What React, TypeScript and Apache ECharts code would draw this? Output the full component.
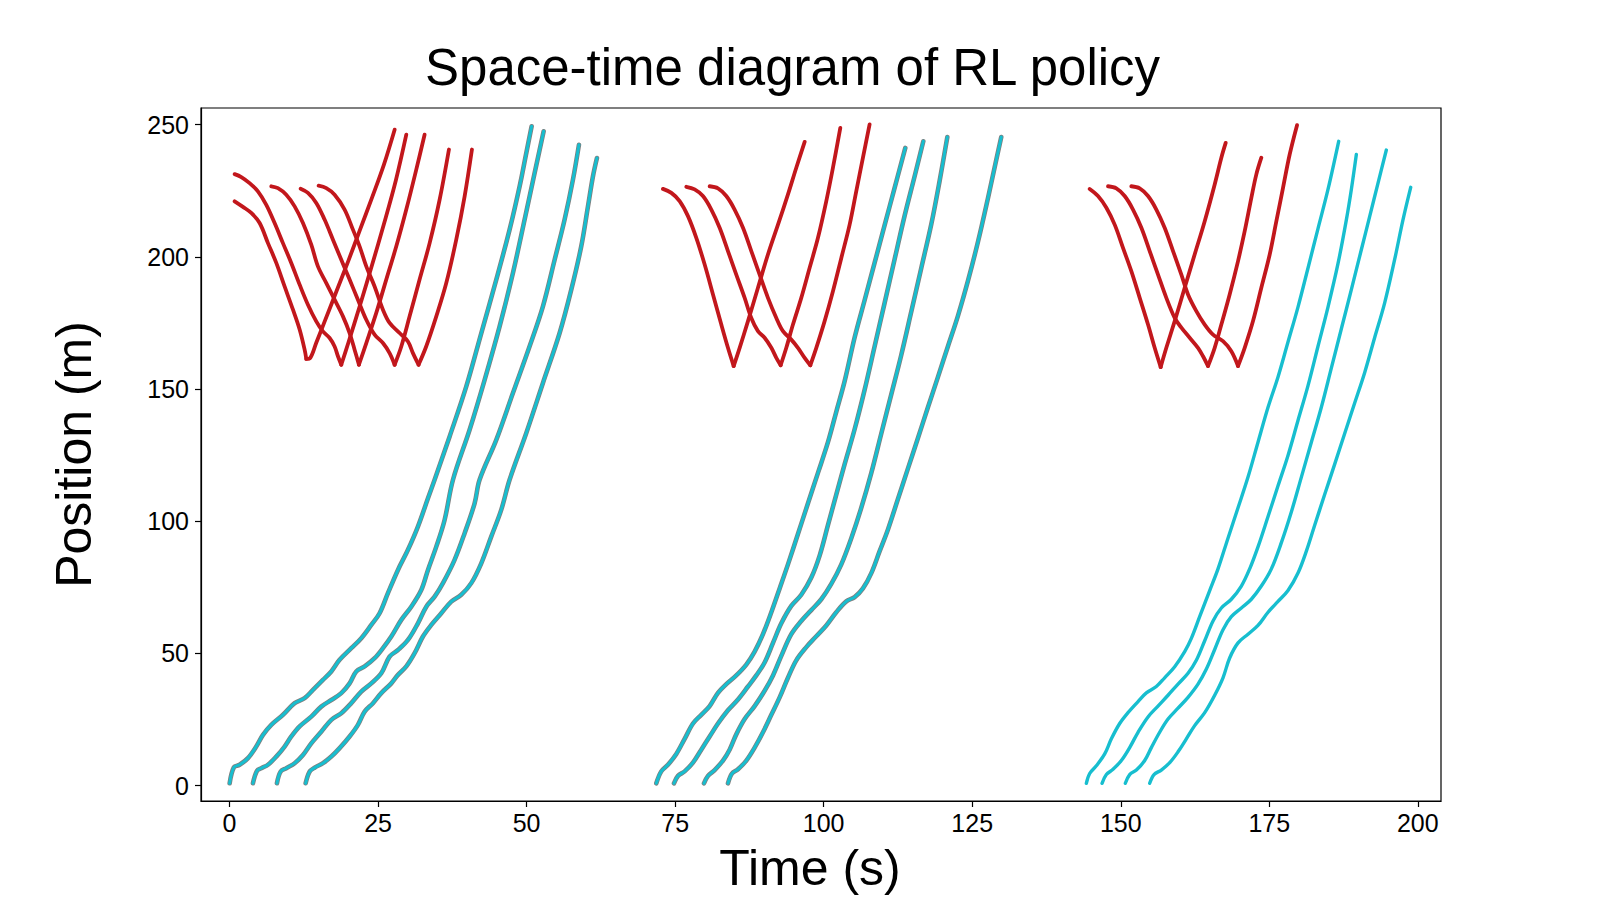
import React, { useEffect, useRef } from "react";
import * as echarts from "echarts";

// ---------- tick labels ----------
const xTicks = [0, 25, 50, 75, 100, 125, 150, 175, 200];
const yTicks = [0, 50, 100, 150, 200, 250];

// ---------- red vehicles (time s, position m) ----------
const red1A = [[0.86,221.0],[2.26,218.9],[3.66,216.6],[5.07,212.8],[6.47,205.2],[7.87,197.7],[9.27,188.8],[10.68,180.0],[11.8,172.5],[12.64,164.9],[12.92,161.4],[13.6,161.8],[14.6,167.5],[16.0,175.5],[18.0,187.0],[20.0,198.5],[22.0,210.5],[24.0,222.5],[26.0,235.0],[27.79,248.1]];
const red1B = [[0.86,231.3],[1.98,230.2],[3.38,227.9],[4.78,224.8],[6.19,219.7],[7.59,212.8],[8.99,205.2],[10.39,197.7],[11.8,189.5],[13.2,181.9],[14.6,175.6],[15.72,171.8],[16.85,169.3],[17.69,166.1],[18.25,162.4],[18.81,159.2],[20.0,167.5],[22.0,182.0],[24.0,197.0],[26.0,212.5],[28.0,229.0],[29.75,246.2]];
const red1C = [[7.03,226.7],[8.15,226.0],[9.55,223.5],[10.96,219.1],[12.36,212.8],[13.76,204.6],[14.88,196.4],[16.29,190.1],[17.69,183.8],[19.09,177.5],[20.21,171.2],[21.05,164.9],[21.78,159.2],[23.02,167.4],[24.7,178.8],[26.38,191.4],[28.07,204.0],[29.75,217.9],[31.43,233.0],[32.83,246.2]];
const red1D = [[11.97,225.8],[13.2,224.2],[14.6,220.4],[16.0,214.1],[17.41,206.5],[18.81,198.9],[20.21,191.4],[21.61,183.8],[23.02,176.2],[24.42,170.6],[25.82,167.4],[26.94,163.6],[27.79,159.2],[28.91,166.1],[30.31,177.5],[31.99,191.4],[33.68,205.2],[35.36,221.6],[36.93,240.6]];
const red1E = [[14.99,226.9],[16.29,226.0],[17.69,223.5],[19.37,217.9],[20.77,210.3],[21.89,204.0],[23.02,196.4],[24.42,188.8],[25.82,180.0],[26.94,175.0],[28.63,171.2],[30.03,168.0],[30.87,163.6],[31.82,159.2],[33.1,166.1],[34.8,177.5],[36.48,190.1],[38.16,206.5],[39.57,222.9],[40.8,240.6]];

const red2A = [[72.95,225.7],[74.36,224.2],[75.76,221.1],[77.16,215.4],[78.56,207.2],[79.97,197.1],[81.37,185.8],[82.77,174.4],[83.89,165.6],[84.85,158.7],[85.86,165.6],[87.26,175.7],[88.94,188.3],[90.62,200.9],[92.31,212.2],[93.99,223.6],[95.39,233.7],[96.8,243.5]];
const red2B = [[76.88,226.5],[78.28,225.5],[79.68,223.0],[81.09,217.9],[82.49,211.0],[83.89,202.2],[85.29,193.3],[86.7,184.5],[87.82,176.9],[88.94,171.9],[90.06,169.4],[91.19,165.6],[92.03,161.8],[92.76,159.0],[93.71,165.6],[94.83,174.4],[96.23,184.5],[97.64,195.9],[99.04,207.2],[100.44,221.1],[101.56,233.7],[102.8,248.8]];
const red2C = [[80.81,226.7],[82.21,225.9],[83.61,223.0],[85.01,217.9],[86.42,211.0],[87.82,202.2],[89.22,193.3],[90.62,184.5],[92.03,176.9],[93.15,171.9],[94.55,168.7],[95.67,165.6],[96.8,161.8],[97.75,159.0],[98.76,165.6],[100.16,175.7],[101.56,187.0],[102.97,199.6],[104.37,212.2],[105.49,224.9],[106.61,237.5],[107.73,250.1]];

const red3A = [[144.77,225.7],[146.17,223.0],[147.58,218.6],[148.98,212.2],[150.38,203.4],[151.78,194.6],[153.19,184.5],[154.59,174.4],[155.71,165.6],[156.72,158.3],[157.67,165.6],[159.08,175.7],[160.76,188.3],[162.44,200.9],[164.13,213.5],[165.81,227.4],[166.93,237.5],[167.66,243.1]];
const red3B = [[147.86,226.7],[149.26,225.9],[150.66,223.0],[152.06,217.9],[153.47,211.0],[154.87,202.2],[156.27,193.3],[157.67,184.5],[159.08,176.9],[160.2,173.2],[161.6,169.4],[163.0,165.6],[163.85,162.4],[164.69,158.7],[165.81,165.6],[166.93,174.4],[168.33,185.8],[169.74,198.4],[170.86,209.7],[171.98,222.3],[172.82,231.2],[173.66,237.5]];
const red3C = [[151.78,226.7],[153.19,225.9],[154.59,223.0],[155.99,217.9],[157.39,211.0],[158.8,202.2],[160.2,193.3],[161.32,185.8],[162.72,179.5],[164.13,174.4],[165.53,170.6],[167.21,168.1],[168.61,164.3],[169.74,158.7],[170.86,165.6],[172.26,175.7],[173.66,188.3],[175.07,200.9],[176.19,213.5],[177.31,226.1],[178.43,238.7],[179.67,249.8]];

// ---------- cyan vehicles (time s, position m) ----------
const cyan1A = [[0.02,0.9],[0.75,7.0],[1.7,7.9],[3.1,10.4],[4.5,14.8],[5.63,19.2],[7.03,23.0],[9.0,26.8],[10.96,31.2],[12.64,33.1],[14.04,36.2],[15.72,40.0],[17.13,43.2],[18.53,47.6],[20.49,52.0],[22.18,55.8],[23.86,60.8],[25.26,65.2],[26.66,72.8],[28.35,81.6],[30.03,89.2],[31.71,98.0],[33.4,108.7],[34.52,115.7],[37.05,132.1],[39.85,151.0],[42.38,171.2],[44.9,191.4],[47.14,210.3],[48.83,226.7],[49.95,239.3],[50.85,249.4]];
const cyan1B = [[3.94,0.9],[4.62,5.6],[5.35,6.6],[6.47,7.9],[7.87,11.0],[9.27,14.8],[10.4,18.6],[11.8,22.4],[13.76,26.1],[15.44,29.9],[17.13,32.4],[18.81,35.0],[20.21,38.7],[21.33,43.2],[22.74,45.1],[24.42,48.2],[25.82,52.0],[27.23,56.4],[28.91,62.7],[30.59,67.7],[32.27,74.0],[33.4,81.6],[34.8,90.4],[36.2,100.5],[37.61,115.7],[40.41,134.6],[42.94,153.5],[45.46,173.7],[47.7,193.9],[49.67,214.1],[51.35,231.7],[52.87,247.5]];
const cyan1C = [[7.98,0.9],[8.6,5.3],[9.55,6.6],[10.96,8.5],[12.36,11.6],[13.76,16.0],[15.44,20.4],[17.13,24.9],[18.81,27.4],[20.49,31.2],[22.18,35.6],[23.86,38.7],[25.54,42.5],[26.94,48.8],[28.35,51.3],[30.03,55.1],[31.71,61.4],[33.12,67.7],[34.52,71.5],[35.92,76.6],[37.88,85.4],[39.57,95.5],[41.25,106.8],[42.09,115.7],[44.9,130.8],[47.7,148.5],[50.51,166.2],[52.75,181.3],[54.72,198.9],[56.4,214.1],[57.8,229.2],[58.81,242.4]];
const cyan1D = [[12.81,0.9],[13.48,5.3],[14.32,6.8],[15.72,8.5],[17.13,11.0],[18.53,14.2],[20.21,18.6],[21.61,23.0],[22.74,28.0],[24.14,31.2],[25.54,35.0],[27.23,38.7],[28.35,41.9],[29.75,45.1],[31.15,50.1],[32.55,56.4],[33.96,60.8],[35.64,65.2],[37.32,69.6],[39.0,72.2],[40.69,76.6],[42.37,84.1],[44.05,94.2],[45.73,104.3],[47.14,115.7],[49.95,133.4],[52.75,152.3],[55.56,171.2],[57.52,187.6],[59.2,204.0],[60.33,219.1],[61.17,230.5],[61.84,237.4]];

const cyan2A = [[71.83,0.9],[72.67,5.4],[73.79,7.9],[75.2,12.0],[76.6,17.7],[78.0,23.5],[79.4,26.8],[80.81,30.1],[82.21,35.1],[83.61,38.4],[85.29,41.7],[86.98,45.8],[88.38,50.7],[89.78,57.3],[91.19,65.6],[92.59,74.6],[93.99,83.7],[95.67,95.2],[97.36,106.8],[99.04,118.3],[100.72,129.9],[102.12,141.4],[103.53,153.0],[105.21,169.5],[106.89,183.6],[108.58,197.8],[110.26,212.0],[111.94,226.1],[113.74,241.2]];
const cyan2B = [[74.8,0.9],[75.48,3.7],[76.6,5.4],[78.0,8.7],[79.4,13.6],[80.81,18.6],[82.21,23.5],[83.89,28.5],[85.58,32.6],[87.26,37.5],[88.66,41.7],[90.06,46.6],[91.47,54.0],[92.87,61.4],[94.55,68.0],[96.23,72.2],[97.92,78.7],[99.32,87.0],[100.72,98.5],[102.12,110.1],[103.53,121.6],[105.21,134.8],[106.89,149.7],[108.58,166.2],[110.26,182.6],[111.94,199.1],[113.63,215.6],[115.31,230.5],[116.77,243.7]];
const cyan2C = [[79.85,0.9],[80.53,3.7],[81.65,5.9],[83.05,9.5],[84.17,13.6],[85.29,19.4],[86.7,25.2],[88.38,30.1],[90.06,35.9],[91.47,41.7],[92.87,49.1],[94.55,57.3],[96.23,62.3],[97.92,66.4],[99.6,70.5],[101.28,76.3],[102.97,83.7],[104.65,93.6],[106.33,105.1],[108.02,118.3],[109.7,133.2],[111.38,148.0],[113.06,162.9],[114.75,179.3],[116.43,195.8],[118.11,212.3],[119.52,228.8],[120.81,245.3]];
const cyan2D = [[83.89,0.9],[84.57,4.6],[85.58,6.2],[86.98,9.5],[88.38,14.4],[89.78,20.2],[91.19,26.8],[92.59,33.4],[93.99,40.8],[95.39,47.4],[97.08,52.4],[98.76,56.5],[100.44,60.6],[102.12,65.6],[103.81,69.7],[105.21,71.3],[106.61,74.6],[108.02,80.4],[109.42,88.7],[110.82,96.9],[112.5,108.4],[114.19,120.0],[115.87,131.5],[117.55,143.1],[119.24,154.6],[120.92,166.2],[122.6,177.7],[124.28,190.9],[125.97,205.7],[127.65,222.2],[128.77,233.8],[129.89,245.3]];

const cyan3A = [[144.21,0.9],[144.77,4.6],[145.89,7.5],[147.3,12.0],[148.42,17.7],[149.82,23.5],[151.22,27.6],[152.91,31.8],[154.31,35.1],[155.99,37.5],[157.39,40.8],[159.08,45.0],[160.76,50.7],[161.88,55.7],[163.28,63.9],[164.97,73.8],[166.37,82.0],[168.05,93.6],[169.74,105.1],[171.42,116.7],[173.1,129.9],[174.79,143.1],[176.47,154.6],[178.15,167.8],[179.83,181.0],[181.52,195.8],[183.2,210.7],[184.88,225.5],[186.68,243.7]];
const cyan3B = [[146.85,0.9],[147.58,4.2],[148.7,6.2],[150.1,9.5],[151.5,14.4],[152.91,20.2],[154.59,26.0],[156.27,30.1],[157.96,34.2],[159.64,38.4],[161.32,42.5],[162.72,47.4],[164.13,54.8],[165.53,62.3],[166.93,67.2],[168.61,70.5],[170.3,75.5],[171.7,82.0],[173.1,90.3],[174.79,101.8],[176.47,113.4],[178.15,124.9],[179.83,138.1],[181.52,151.3],[183.2,166.2],[184.88,181.0],[186.57,197.5],[187.97,214.0],[188.81,225.5],[189.65,238.7]];
const cyan3C = [[150.77,0.9],[151.5,4.2],[152.63,5.9],[154.03,9.5],[155.15,14.4],[156.55,20.2],[157.96,25.2],[159.64,29.3],[161.32,33.4],[163.0,38.4],[164.41,44.1],[165.81,51.5],[167.21,59.0],[168.61,63.9],[170.3,67.2],[171.98,70.5],[173.66,75.5],[175.35,82.0],[177.03,91.9],[178.71,103.5],[180.4,116.7],[182.08,129.9],[183.76,143.1],[185.44,157.9],[187.13,172.8],[188.81,187.6],[190.49,202.7],[191.9,215.3],[193.3,227.9],[194.7,240.4]];
const cyan3D = [[154.87,0.9],[155.6,4.2],[156.83,5.9],[158.24,8.7],[159.64,12.8],[161.04,17.7],[162.44,22.7],[164.13,27.6],[165.81,34.2],[167.21,40.8],[168.33,48.3],[169.74,54.0],[171.42,57.3],[173.1,60.6],[174.79,65.6],[176.47,69.7],[178.15,73.8],[179.83,80.4],[181.24,88.7],[182.64,98.5],[184.32,110.1],[186.01,121.6],[187.69,133.2],[189.37,144.7],[191.06,156.3],[192.74,169.5],[194.42,182.6],[196.11,199.1],[197.5,214.0],[198.8,226.3]];

const redTracks = [red1A, red1B, red1C, red1D, red1E, red2A, red2B, red2C, red3A, red3B, red3C];
const cyanEdged = [cyan1A, cyan1B, cyan1C, cyan1D, cyan2A, cyan2B, cyan2C, cyan2D];
const cyanPlain = [cyan3A, cyan3B, cyan3C, cyan3D];

const RED = "#c2171c";
const CYAN = "#17becf";
const GREY = "#7f7f7f";
const FONT = "Liberation Sans, Arial, sans-serif";

function lineSeries(data: number[][], color: string, width: number, z: number) {
  return {
    type: "line",
    data,
    symbol: "none",
    showSymbol: false,
    smooth: 0.35,
    silent: true,
    z,
    lineStyle: { color, width, cap: "round", join: "round" },
  };
}

function splitAtMin(track: number[][]) {
  let k = 0;
  track.forEach((p, i) => {
    if (p[1] < track[k][1]) k = i;
  });
  return [track.slice(0, k + 1), track.slice(k)];
}

export default function App() {
  const ref = useRef<HTMLDivElement>(null);
  useEffect(() => {
    document.body.style.margin = "0";
    const chart = echarts.init(ref.current!, null, { renderer: "svg" });
    const series: any[] = [];
    redTracks.forEach((t) => {
      splitAtMin(t).forEach((part) => series.push(lineSeries(part, RED, 3.8, 3)));
    });
    cyanEdged.forEach((t) => {
      series.push(lineSeries(t, GREY, 4.6, 4));
      series.push(lineSeries(t, CYAN, 3.0, 5));
    });
    cyanPlain.forEach((t) => series.push(lineSeries(t, CYAN, 3.4, 5)));

    chart.setOption({
      animation: false,
      backgroundColor: "#ffffff",
      title: {
        text: "Space-time diagram of RL policy",
        left: 420,
        top: 37,
        textStyle: { fontFamily: FONT, fontSize: 51, fontWeight: "normal", color: "#000" },
      },
      grid: {
        left: 201,
        top: 108,
        width: 1240,
        height: 693,
        show: true,
        borderColor: "#000",
        borderWidth: 1.2,
        backgroundColor: "transparent",
      },
      xAxis: {
        type: "value",
        min: -4.8,
        max: 203.9,
        name: "Time (s)",
        nameLocation: "middle",
        nameGap: 42,
        nameTextStyle: { fontFamily: FONT, fontSize: 50, color: "#000", padding: [0, 22, 0, 0] },
        axisLine: { show: true, onZero: false, lineStyle: { color: "#000", width: 1.2 } },
        axisTick: { show: true, length: 6, customValues: xTicks, lineStyle: { color: "#000", width: 1.2 } },
        axisLabel: {
          customValues: xTicks,
          margin: 9,
          fontFamily: FONT,
          fontSize: 25,
          color: "#000",
        },
        splitLine: { show: false },
      },
      yAxis: {
        type: "value",
        min: -5.8,
        max: 256.3,
        name: "Position (m)",
        nameLocation: "middle",
        nameGap: 102,
        nameTextStyle: { fontFamily: FONT, fontSize: 50, color: "#000" },
        axisLine: { show: true, onZero: false, lineStyle: { color: "#000", width: 1.2 } },
        axisTick: { show: true, length: 6, customValues: yTicks, lineStyle: { color: "#000", width: 1.2 } },
        axisLabel: {
          customValues: yTicks,
          margin: 12,
          fontFamily: FONT,
          fontSize: 25,
          color: "#000",
        },
        splitLine: { show: false },
      },
      series,
    });
    return () => chart.dispose();
  }, []);
  return <div ref={ref} style={{ width: 1600, height: 900 }} />;
}
